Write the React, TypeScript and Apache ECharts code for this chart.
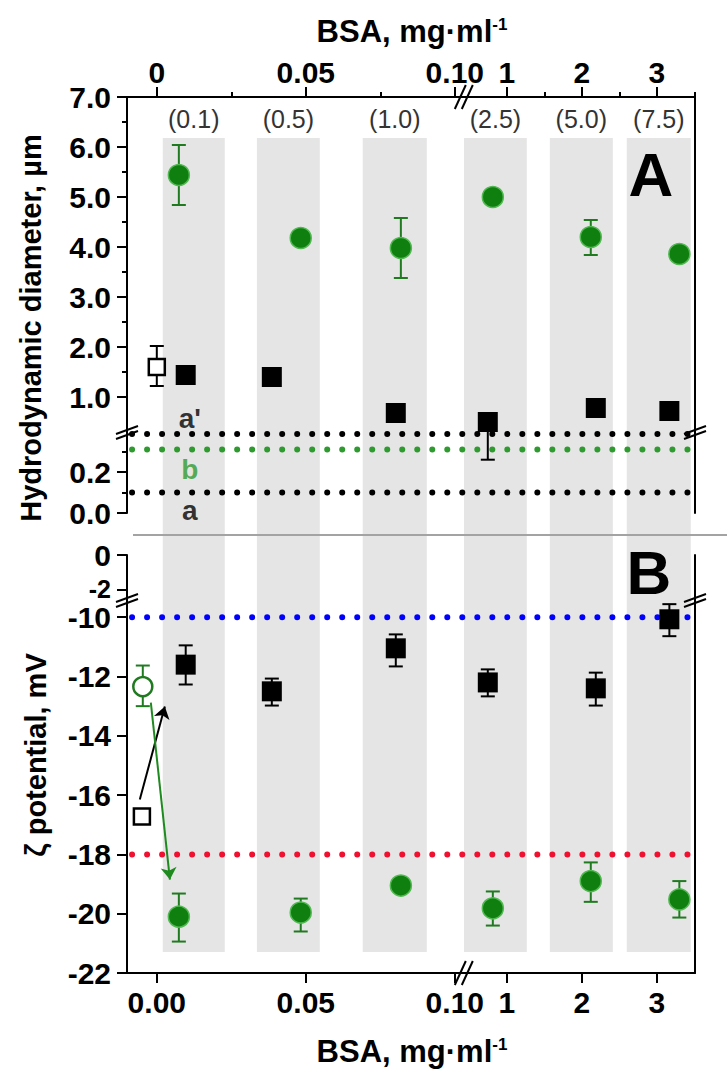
import React, { useEffect, useRef } from "react";
import * as echarts from "echarts";

// ---------------- data ----------------
const xTickValues = [0, 0.05, 0.1, 1, 2, 3];
const xTopTickLabels = ["0", "0.05", "0.10", "1", "2", "3"];
const xBottomTickLabels = ["0.00", "0.05", "0.10", "1", "2", "3"];
const xTopMinorTicks = [0.025, 0.075, 1.5, 2.5, 3.5];

const diamTickValues = [0, 0.2, 1, 2, 3, 4, 5, 6, 7];
const diamTickLabels = ["0.0", "0.2", "1.0", "2.0", "3.0", "4.0", "5.0", "6.0", "7.0"];
const diamMinorTicks = [0.1, 0.3, 1.5, 2.5, 3.5, 4.5, 5.5, 6.5];

const zetaTickValues = [0, -2, -10, -12, -14, -16, -18, -20, -22];
const zetaTickLabels = ["0", "{s|-2}", "-10", "-12", "-14", "-16", "-18", "-20", "-22"];

const bandLabels = ["(0.1)", "(0.5)", "(1.0)", "(2.5)", "(5.0)", "(7.5)"];
const bandStart = [0.002, 0.0336, 0.0691, 0.43, 1.574, 2.6];
const bandEnd = [0.0228, 0.0547, 0.0906, 1.267, 2.414, 3.453];

const blackBSA = [0.0097, 0.0386, 0.0802, 0.747, 2.187, 3.168];
const greenBSA = [0.0074, 0.0483, 0.0819, 0.814, 2.12, 3.301];

// Panel A: hydrodynamic diameter (µm)
const diamBlack = [1.44, 1.4, 0.68, 0.5, 0.78, 0.72];
const diamBlackLow = [null, null, null, 0.26, null, null];
const diamBlackHigh = [null, null, null, 0.5, null, null];
const diamGreen = [5.44, 4.18, 3.98, 5.0, 4.2, 3.86];
const diamGreenLow = [4.84, null, 3.38, null, 3.84, null];
const diamGreenHigh = [6.04, null, 4.58, null, 4.54, null];
const diamControlBSA = [0];
const diamControl = [1.6];
const diamControlLow = [1.22];
const diamControlHigh = [2.02];
const diamRefNames = ["a", "b", "a'"];
const diamRefValues = [0.1, 0.31, 0.385];
const diamRefLabelBSA = 0.0111;

// Panel B: zeta potential (mV)
const zetaBlack = [-11.6, -12.5, -11.05, -12.2, -12.4, -10.07];
const zetaBlackLow = [-12.27, -12.98, -11.66, -12.67, -12.98, -10.64];
const zetaBlackHigh = [-10.95, -12.07, -10.58, -11.76, -11.87, -9.56];
const zetaGreen = [-20.1, -19.96, -19.05, -19.82, -18.9, -19.52];
const zetaGreenLow = [-20.94, -20.6, null, -20.4, -19.6, -20.13];
const zetaGreenHigh = [-19.32, -19.49, null, -19.25, -18.27, -18.9];
const zetaSquareBSA = [-0.005];
const zetaSquare = [-16.72];
const zetaCircleBSA = [-0.0047];
const zetaCircle = [-12.34];
const zetaCircleLow = [-13.0];
const zetaCircleHigh = [-11.63];
const zetaRefValues = [-10, -18];
const blackArrowFrom = [-0.0057, -16.15];
const blackArrowTo = [0.0027, -13.01];
const greenArrowFrom = [-0.002, -12.88];
const greenArrowTo = [0.0044, -18.85];

const refLineFrom = -0.0083;
const refLineTo = 3.45;

// ---------------- broken-axis transforms ----------------
const X = (x: number) => (x <= 0.2 ? (x + 0.01) * 2980 : 336.8 + (x - 0.427) * 75);
const YA = (v: number) => (v <= 0.395 ? v * 205 : 81 + (v - 0.3) * 50);
const YB = (v: number) => (v <= -9.42 ? (v + 22) * 29.65 : 373 + (v + 2.57) * 17.5);

const FONT = "'Liberation Sans', Arial, Helvetica, sans-serif";
const GREEN = "#0f7f0f";
const GREEN_EDGE = "#52b852";
const GREEN_LINE = "#2f9a2f";
const GREEN_ERR = "#207a20";

const GA = { left: 127, top: 97, width: 568, height: 416 };
const GB = { left: 127, top: 555, width: 568, height: 418 };

const fmt = (vals: number[], labels: string[], f: (v: number) => number) => (val: number) => {
  for (let i = 0; i < vals.length; i++) if (Math.abs(f(vals[i]) - val) < 0.05) return labels[i];
  return "";
};

const tickLabelStyle = { fontFamily: FONT, fontSize: 30, fontWeight: "bold" as const, color: "#000", lineHeight: 22 };
const lineStyleAxis = { color: "#000", width: 2 };

function errSeries(xs: number[], lows: (number | null)[], highs: (number | null)[], f: (v: number) => number, color: string, gridAxes: any) {
  const data: number[][] = [];
  xs.forEach((x, i) => {
    const lo = lows[i];
    const hi = highs[i];
    if (lo != null && hi != null) data.push([X(x), f(lo), f(hi)]);
  });
  return {
    type: "custom",
    ...gridAxes,
    z: 3,
    clip: false,
    encode: { x: 0, y: [1, 2] },
    data,
    renderItem: (params: any, api: any) => {
      const a = api.coord([api.value(0), api.value(1)]);
      const b = api.coord([api.value(0), api.value(2)]);
      const cw = 7;
      const st = { stroke: color, lineWidth: 2 };
      return {
        type: "group",
        children: [
          { type: "line", shape: { x1: a[0], y1: a[1], x2: b[0], y2: b[1] }, style: st },
          { type: "line", shape: { x1: a[0] - cw, y1: a[1], x2: a[0] + cw, y2: a[1] }, style: st },
          { type: "line", shape: { x1: b[0] - cw, y1: b[1], x2: b[0] + cw, y2: b[1] }, style: st },
        ],
      };
    },
  };
}

function bandSeries(gridAxes: any, top: number, bottom: number, labelY: number | null) {
  return {
    type: "custom",
    ...gridAxes,
    z: 0,
    clip: false,
    silent: true,
    encode: { x: [0, 1] },
    data: bandStart.map((s, i) => [X(s), X(bandEnd[i])]),
    renderItem: (params: any, api: any) => {
      const p1 = api.coord([api.value(0), top]);
      const p2 = api.coord([api.value(1), bottom]);
      const children: any[] = [
        { type: "rect", shape: { x: p1[0], y: p1[1], width: p2[0] - p1[0], height: p2[1] - p1[1] }, style: { fill: "#e5e5e5" } },
      ];
      if (labelY != null) {
        const ly = api.coord([api.value(0), labelY])[1];
        children.push({
          type: "text",
          x: (p1[0] + p2[0]) / 2,
          y: ly,
          style: {
            text: bandLabels[params.dataIndex],
            fill: "#333",
            fontFamily: FONT,
            fontSize: 25,
            align: "center",
            verticalAlign: "middle",
          },
        });
      }
      return { type: "group", children };
    },
  };
}

function refLine(v: number, f: (v: number) => number, color: string, gridAxes: any) {
  return {
    type: "line",
    ...gridAxes,
    z: 2,
    showSymbol: false,
    symbol: "none",
    silent: true,
    data: [
      [X(refLineFrom), f(v)],
      [X(refLineTo), f(v)],
    ],
    lineStyle: { color, width: 6, type: [0.01, 15], cap: "round" },
  };
}

function breakMarksV(x: number, y: number) {
  const s = { stroke: "#000", lineWidth: 2 };
  return [
    { type: "line", shape: { x1: x - 11, y1: y + 2, x2: x + 11, y2: y - 6 }, style: s },
    { type: "line", shape: { x1: x - 11, y1: y + 7, x2: x + 11, y2: y - 1 }, style: s },
  ];
}
function breakMarksH(x: number, y: number) {
  const s = { stroke: "#000", lineWidth: 2 };
  return [
    { type: "line", shape: { x1: x - 9, y1: y + 12, x2: x + 2, y2: y - 12 }, style: s },
    { type: "line", shape: { x1: x - 2, y1: y + 12, x2: x + 9, y2: y - 12 }, style: s },
  ];
}

function buildOption() {
  const A = { xAxisIndex: 0, yAxisIndex: 0 };
  const B = { xAxisIndex: 2, yAxisIndex: 3 };
  const xMaj = xTickValues.map(X);

  const breakAY = GA.top + GA.height - 81;
  const breakBY = GB.top + GB.height - 373;
  const breakX = GA.left + 336.8;

  return {
    animation: false,
    backgroundColor: "#fff",
    grid: [
      { ...GA, outerBoundsMode: "none", containLabel: false },
      { ...GB, outerBoundsMode: "none", containLabel: false },
    ],
    xAxis: [
      {
        type: "value", gridIndex: 0, position: "top", min: 0, max: GA.width,
        axisLine: { show: true, onZero: false, lineStyle: lineStyleAxis },
        axisTick: { show: true, length: 10, lineStyle: lineStyleAxis, customValues: xMaj },
        axisLabel: { show: true, margin: 14, customValues: xMaj, formatter: fmt(xTickValues, xTopTickLabels, X), ...tickLabelStyle },
        splitLine: { show: false },
      },
      {
        type: "value", gridIndex: 0, position: "top", min: 0, max: GA.width,
        axisLine: { show: false, onZero: false },
        axisTick: { show: true, length: 5, lineStyle: lineStyleAxis, customValues: xTopMinorTicks.map(X) },
        axisLabel: { show: false },
        splitLine: { show: false },
      },
      {
        type: "value", gridIndex: 1, position: "bottom", min: 0, max: GB.width,
        axisLine: { show: true, onZero: false, lineStyle: lineStyleAxis },
        axisTick: { show: true, length: 10, lineStyle: lineStyleAxis, customValues: xMaj },
        axisLabel: { show: true, margin: 18, customValues: xMaj, formatter: fmt(xTickValues, xBottomTickLabels, X), ...tickLabelStyle },
        splitLine: { show: false },
      },
    ],
    yAxis: [
      {
        type: "value", gridIndex: 0, position: "left", min: 0, max: GA.height,
        axisLine: { show: true, onZero: false, lineStyle: lineStyleAxis },
        axisTick: { show: true, length: 10, lineStyle: lineStyleAxis, customValues: diamTickValues.map(YA) },
        axisLabel: { show: true, margin: 16, customValues: diamTickValues.map(YA), formatter: fmt(diamTickValues, diamTickLabels, YA), ...tickLabelStyle },
        splitLine: { show: false },
      },
      {
        type: "value", gridIndex: 0, position: "left", min: 0, max: GA.height,
        axisLine: { show: false, onZero: false },
        axisTick: { show: true, length: 5, lineStyle: lineStyleAxis, customValues: diamMinorTicks.map(YA) },
        axisLabel: { show: false },
        splitLine: { show: false },
      },
      {
        type: "value", gridIndex: 0, position: "right", min: 0, max: GA.height,
        axisLine: { show: true, onZero: false, lineStyle: lineStyleAxis },
        axisTick: { show: false },
        axisLabel: { show: false },
        splitLine: { show: false },
      },
      {
        type: "value", gridIndex: 1, position: "left", min: 0, max: GB.height,
        axisLine: { show: true, onZero: false, lineStyle: lineStyleAxis },
        axisTick: { show: true, length: 10, lineStyle: lineStyleAxis, customValues: zetaTickValues.map(YB) },
        axisLabel: {
          show: true, margin: 16, customValues: zetaTickValues.map(YB), formatter: fmt(zetaTickValues, zetaTickLabels, YB), ...tickLabelStyle,
          rich: { s: { fontFamily: FONT, fontSize: 25, fontWeight: "bold", color: "#000", lineHeight: 20, padding: [0, 0, 2, 0] } },
        },
        splitLine: { show: false },
      },
      {
        type: "value", gridIndex: 1, position: "right", min: 0, max: GB.height,
        axisLine: { show: true, onZero: false, lineStyle: lineStyleAxis },
        axisTick: { show: false },
        axisLabel: { show: false },
        splitLine: { show: false },
      },
    ],
    series: [
      // ---- Panel A ----
      bandSeries(A, GA.height - (138 - GA.top), 0, GA.height - (118.5 - GA.top)),
      refLine(diamRefValues[0], YA, "#000", A),
      refLine(diamRefValues[1], YA, GREEN_LINE, A),
      refLine(diamRefValues[2], YA, "#000", A),
      {
        type: "scatter", ...A, z: 4, symbolSize: 1, silent: true,
        itemStyle: { color: "rgba(0,0,0,0)" },
        data: diamRefNames.map((n, i) => ({
          name: n,
          value: [X(diamRefLabelBSA), YA(diamRefValues[i])],
          label: {
            show: true, position: "inside", formatter: n,
            offset: [0, i === 2 ? -16 : i === 1 ? 20 : 18],
            color: i === 1 ? GREEN_LINE : "#000",
            fontFamily: FONT, fontSize: 28, fontWeight: "bold", lineHeight: 22,
          },
        })),
      },
      errSeries(greenBSA, diamGreenLow, diamGreenHigh, YA, GREEN_ERR, A),
      errSeries(blackBSA, diamBlackLow, diamBlackHigh, YA, "#000", A),
      errSeries(diamControlBSA, diamControlLow, diamControlHigh, YA, "#000", A),
      {
        type: "scatter", ...A, z: 5, symbol: "circle", symbolSize: 21,
        itemStyle: { color: GREEN, borderColor: GREEN_EDGE, borderWidth: 1.5, opacity: 1 },
        data: greenBSA.map((x, i) => [X(x), YA(diamGreen[i])]),
      },
      {
        type: "scatter", ...A, z: 5, symbol: "rect", symbolSize: 20,
        itemStyle: { color: "#000", opacity: 1 },
        data: blackBSA.map((x, i) => [X(x), YA(diamBlack[i])]),
      },
      {
        type: "scatter", ...A, z: 5, symbol: "rect", symbolSize: 16,
        itemStyle: { color: "#fff", borderColor: "#000", borderWidth: 2.5, opacity: 1 },
        data: diamControlBSA.map((x, i) => [X(x), YA(diamControl[i])]),
      },

      // ---- Panel B ----
      bandSeries(B, GB.height + (GB.top - GA.top - GA.height), 973 - 952, null),
      refLine(zetaRefValues[0], YB, "#0000ff", B),
      refLine(zetaRefValues[1], YB, "#f01030", B),
      errSeries(greenBSA, zetaGreenLow, zetaGreenHigh, YB, GREEN_ERR, B),
      errSeries(blackBSA, zetaBlackLow, zetaBlackHigh, YB, "#000", B),
      errSeries(zetaCircleBSA, zetaCircleLow, zetaCircleHigh, YB, GREEN_ERR, B),
      {
        type: "scatter", ...B, z: 5, symbol: "circle", symbolSize: 21,
        itemStyle: { color: GREEN, borderColor: GREEN_EDGE, borderWidth: 1.5, opacity: 1 },
        data: greenBSA.map((x, i) => [X(x), YB(zetaGreen[i])]),
      },
      {
        type: "scatter", ...B, z: 5, symbol: "rect", symbolSize: 20,
        itemStyle: { color: "#000", opacity: 1 },
        data: blackBSA.map((x, i) => [X(x), YB(zetaBlack[i])]),
      },
      {
        type: "scatter", ...B, z: 5, symbol: "circle", symbolSize: 19,
        itemStyle: { color: "#fff", borderColor: GREEN_ERR, borderWidth: 2.5, opacity: 1 },
        data: zetaCircleBSA.map((x, i) => [X(x), YB(zetaCircle[i])]),
      },
      {
        type: "scatter", ...B, z: 5, symbol: "rect", symbolSize: 16,
        itemStyle: { color: "#fff", borderColor: "#000", borderWidth: 2.5, opacity: 1 },
        data: zetaSquareBSA.map((x, i) => [X(x), YB(zetaSquare[i])]),
        markLine: {
          silent: true,
          symbol: ["none", "arrow"],
          symbolSize: 12,
          label: { show: false },
          animation: false,
          data: [
            [
              { coord: [X(blackArrowFrom[0]), YB(blackArrowFrom[1])], lineStyle: { color: "#000", width: 2, type: "solid" } },
              { coord: [X(blackArrowTo[0]), YB(blackArrowTo[1])] },
            ],
            [
              { coord: [X(greenArrowFrom[0]), YB(greenArrowFrom[1])], lineStyle: { color: "#1f8a1f", width: 2, type: "solid" } },
              { coord: [X(greenArrowTo[0]), YB(greenArrowTo[1])] },
            ],
          ],
        },
      },
    ],
    graphic: [
      // titles
      {
        type: "text", x: 412, y: 31, z: 10,
        style: {
          text: "{b|BSA, mg·ml}{s|-1}", align: "center", verticalAlign: "middle",
          rich: {
            b: { fontFamily: FONT, fontSize: 31, fontWeight: "bold", fill: "#000" },
            s: { fontFamily: FONT, fontSize: 17, fontWeight: "bold", fill: "#000", verticalAlign: "top" },
          },
        },
      },
      {
        type: "text", x: 412, y: 1051, z: 10,
        style: {
          text: "{b|BSA, mg·ml}{s|-1}", align: "center", verticalAlign: "middle",
          rich: {
            b: { fontFamily: FONT, fontSize: 31, fontWeight: "bold", fill: "#000" },
            s: { fontFamily: FONT, fontSize: 17, fontWeight: "bold", fill: "#000", verticalAlign: "top" },
          },
        },
      },
      {
        type: "text", x: 31, y: 328, rotation: Math.PI / 2, z: 10,
        style: { text: "Hydrodynamic diameter, µm", fontFamily: FONT, fontSize: 29, fontWeight: "bold", fill: "#000", align: "center", verticalAlign: "middle" },
      },
      {
        type: "text", x: 36, y: 755, rotation: Math.PI / 2, z: 10,
        style: { text: "ζ potential, mV", fontFamily: FONT, fontSize: 29, fontWeight: "bold", fill: "#000", align: "center", verticalAlign: "middle" },
      },
      {
        type: "text", x: 651, y: 174, z: 10,
        style: { text: "A", fontFamily: FONT, fontSize: 62, fontWeight: "bold", fill: "#000", align: "center", verticalAlign: "middle" },
      },
      {
        type: "text", x: 649, y: 572, z: 10,
        style: { text: "B", fontFamily: FONT, fontSize: 62, fontWeight: "bold", fill: "#000", align: "center", verticalAlign: "middle" },
      },
      // panel separator
      {
        type: "line", z: 10,
        shape: { x1: 133, y1: 535, x2: 727, y2: 535 },
        style: { stroke: "#a3a3a3", lineWidth: 2 },
      },
      // break marks
      ...breakMarksV(GA.left, breakAY).map((e) => ({ ...e, z: 10 })),
      ...breakMarksV(GA.left + GA.width, breakAY).map((e) => ({ ...e, z: 10 })),
      ...breakMarksV(GB.left, breakBY).map((e) => ({ ...e, z: 10 })),
      ...breakMarksV(GB.left + GB.width, breakBY).map((e) => ({ ...e, z: 10 })),
      ...breakMarksH(breakX, GA.top).map((e) => ({ ...e, z: 10 })),
      ...breakMarksH(breakX, GB.top + GB.height).map((e) => ({ ...e, z: 10 })),
    ],
  };
}

export default function App() {
  const ref = useRef<HTMLDivElement>(null);
  useEffect(() => {
    document.body.style.margin = "0";
    const chart = echarts.init(ref.current!, null, { renderer: "svg" });
    chart.setOption(buildOption() as any);
    return () => chart.dispose();
  }, []);
  return <div ref={ref} style={{ position: "absolute", left: 0, top: 0, width: 727, height: 1072, background: "#fff" }} />;
}
